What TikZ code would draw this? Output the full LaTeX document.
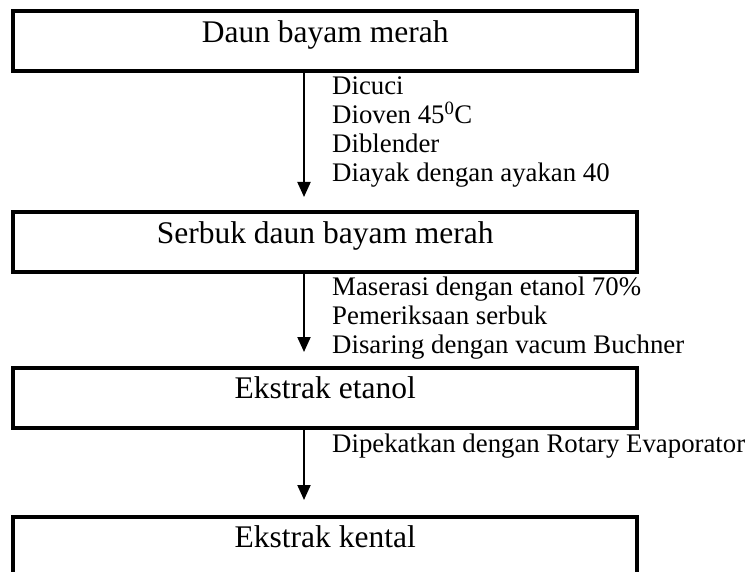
\documentclass[tikz,border=0pt]{standalone}
\usepackage{fontspec}
\setmainfont{Liberation Serif}
\usetikzlibrary{arrows.meta}
\begin{document}
\begin{tikzpicture}[x=1pt,y=-1pt,
  box/.style={draw, line width=4pt, inner sep=0pt, outer sep=2pt,
    minimum width=623.7pt, text height=31pt, text depth=29pt, anchor=north,
    font=\fontsize{31.5}{36}\selectfont},
  lbl/.style={anchor=base west, inner sep=0pt, font=\fontsize{26.8}{29}\selectfont},
  arr/.style={line width=2pt, -{Triangle[length=15pt,width=13pt]}}]
\useasboundingbox (0,0) rectangle (752,572);
\clip (0,0) rectangle (752,572);
% boxes
\node[box] (b1) at (325.2,9.5) {Daun bayam merah};
\node[box] (b2) at (325.2,210) {Serbuk daun bayam merah};
\node[box] (b3) at (325.2,365.5) {Ekstrak etanol};
\node[box] (b4) at (325.2,514.5) {Ekstrak kental};
% arrow tips
\coordinate (t1) at (304,197);
\coordinate (t2) at (304,352);
\coordinate (t3) at (304,500);
\draw[arr] (t1 |- b1.south) -- (t1);
\draw[arr] (t2 |- b2.south) -- (t2);
\draw[arr] (t3 |- b3.south) -- (t3);
% labels
\node[lbl] (l1a) at (332,95) {Dicuci};
\node[lbl] (l1b) at (332,124) {Dioven 45\textsuperscript{0}C};
\node[lbl] (l1c) at (332,153) {Diblender};
\node[lbl] (l1d) at (332,182) {Diayak dengan ayakan 40};
\node[lbl] (l2a) at (332,295) {Maserasi dengan etanol 70\%};
\node[lbl] (l2b) at (332,324) {Pemeriksaan serbuk};
\node[lbl] (l2c) at (332,353) {Disaring dengan vacum Buchner};
\node[lbl] (l3a) at (332,452) {Dipekatkan dengan Rotary Evaporator};
\end{tikzpicture}
\end{document}
